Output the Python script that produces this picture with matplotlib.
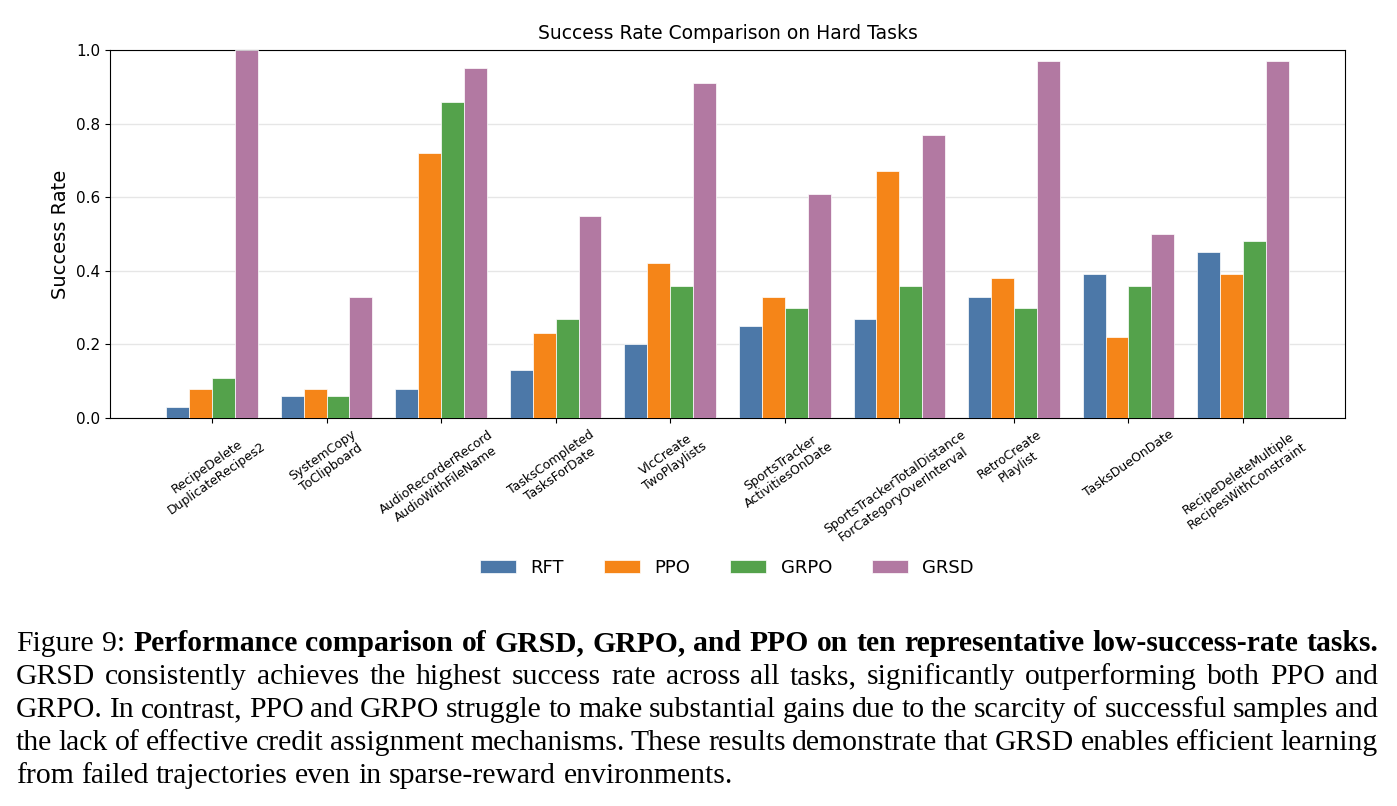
import numpy as np
import matplotlib
matplotlib.use('Agg')
import matplotlib.pyplot as plt

# данные
tasks = [
    'RecipeDelete\nDuplicateRecipes2',
    'SystemCopy\nToClipboard',
    'AudioRecorderRecord\nAudioWithFileName',
    'TasksCompleted\nTasksForDate',
    'VlcCreate\nTwoPlaylists',
    'SportsTracker\nActivitiesOnDate',
    'SportsTrackerTotalDistance\nForCategoryOverInterval',
    'RetroCreate\nPlaylist',
    'TasksDueOnDate',
    'RecipeDeleteMultiple\nRecipesWithConstraint',
]
methods = ['RFT', 'PPO', 'GRPO', 'GRSD']
rft = [0.03, 0.06, 0.08, 0.13, 0.20, 0.25, 0.27, 0.33, 0.39, 0.45]
ppo = [0.08, 0.08, 0.72, 0.23, 0.42, 0.33, 0.67, 0.38, 0.22, 0.39]
grpo = [0.11, 0.06, 0.86, 0.27, 0.36, 0.30, 0.36, 0.30, 0.36, 0.48]
grsd = [1.00, 0.33, 0.95, 0.55, 0.91, 0.61, 0.77, 0.97, 0.50, 0.97]
colors = ['#4c78a8', '#f58518', '#54a24b', '#b279a2']

caption_lines = [
    [('Figure', 'normal'), ('9:', 'normal'),
     ('Performance comparison of GRSD, GRPO, and PPO on ten representative '
      'low-success-rate tasks.', 'bold')],
    [('GRSD consistently achieves the highest success rate across all tasks, '
      'significantly outperforming both PPO and', 'normal')],
    [('GRPO. In contrast, PPO and GRPO struggle to make substantial gains due '
      'to the scarcity of successful samples and', 'normal')],
    [('the lack of effective credit assignment mechanisms. These results '
      'demonstrate that GRSD enables efficient learning', 'normal')],
    [('from failed trajectories even in sparse-reward environments.', 'normal')],
]

W, H = 1397, 806
fig = plt.figure(figsize=(W / 100, H / 100), dpi=100)
ax = fig.add_axes([110 / W, 1 - 418 / H, (1345 - 110) / W, (418 - 50) / H])

x = np.arange(len(tasks))
width = 0.2
for i, (name, vals) in enumerate(zip(methods, [rft, ppo, grpo, grsd])):
    ax.bar(x + (i - 1.5) * width, vals, width, label=name, color=colors[i],
           edgecolor='white', linewidth=0.5, zorder=3)

ax.set_ylim(0, 1.0)
ax.set_yticks(np.arange(0, 1.01, 0.2))
ax.tick_params(axis='y', labelsize=11)
ax.set_xticks(x)
ax.set_xticklabels(tasks, rotation=35, ha='center', fontsize=9)
ax.set_ylabel('Success Rate', fontsize=14)
ax.set_title('Success Rate Comparison on Hard Tasks', fontsize=13.5, pad=8)
ax.grid(axis='y', color='#e6e6e6', linewidth=1, zorder=0)
ax.set_axisbelow(True)

fig.legend(loc='center', bbox_to_anchor=(727 / W, 1 - 568 / H), ncol=4,
           frameon=False, fontsize=13, columnspacing=2.2)

# подпись с выравниванием по ширине
renderer = fig.canvas.get_renderer()
x0, x1 = 16, 1378
baselines = [651, 684, 717, 750, 783]
fsize = 21.3
for li, (line, yb) in enumerate(zip(caption_lines, baselines)):
    words = []
    for chunk, weight in line:
        for w in chunk.split():
            words.append((w, weight))
    texts = []
    for w, weight in words:
        t = fig.text(0, 1 - yb / H, w, fontsize=fsize, family='Liberation Serif',
                     fontweight=weight, va='baseline', ha='left')
        texts.append(t)
    widths = [t.get_window_extent(renderer).width for t in texts]
    if li == len(caption_lines) - 1:
        gap = fsize * 100 / 72 * 0.25
    else:
        gap = (x1 - x0 - sum(widths)) / (len(words) - 1)
    xpos = x0
    for t, wd in zip(texts, widths):
        t.set_x(xpos / W)
        xpos += wd + gap

fig.savefig('out.png', dpi=100)
